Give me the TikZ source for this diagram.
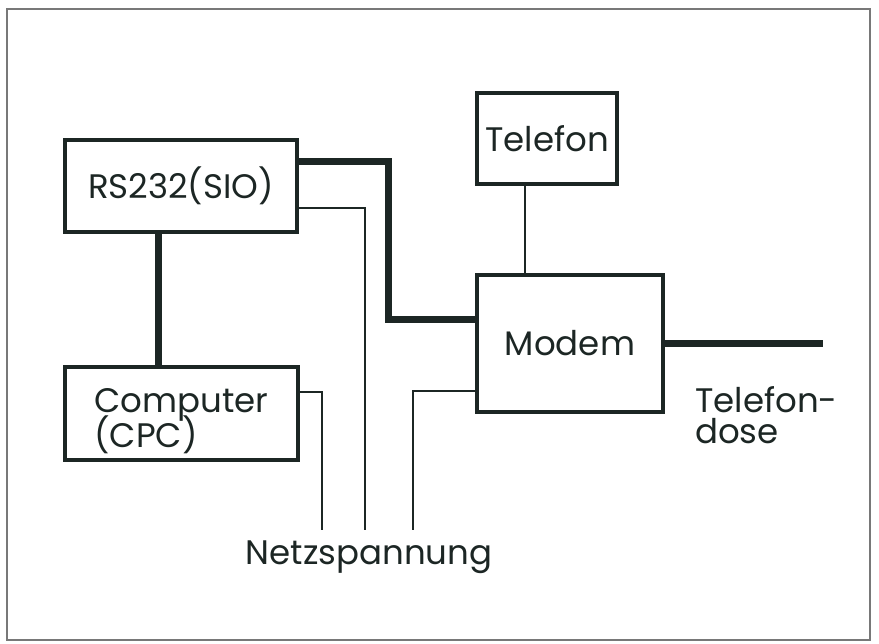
\documentclass[tikz,border=0pt]{standalone}
\usepackage{fontspec}
\setmainfont{Poppins}
\usepackage{xcolor}
\usetikzlibrary{positioning, calc}
\definecolor{InkDark}{RGB}{28,38,36}
\definecolor{FrameGray}{RGB}{120,120,120}
\newcommand\tightlead{\lineskiplimit=-100pt\relax}

\begin{document}
\begin{tikzpicture}[x=1pt, y=-1pt,
  box/.style={draw=InkDark, line width=3.6pt, inner sep=0pt,
              font=\fontsize{34}{35}\selectfont\tightlead,
              text=InkDark, align=center},
  label/.style={inner sep=0pt, font=\fontsize{34}{31}\selectfont\tightlead,
                text=InkDark, align=left},
  bus/.style={draw=InkDark, line width=7pt},
  wire/.style={draw=InkDark, line width=1.3pt},
]
\useasboundingbox (0,0) rectangle (879,644);
\draw[FrameGray, line width=1.5pt] (7,9) rectangle (870,640);
%% Boxes
\node[box, minimum width=232pt, minimum height=92pt] (rs) at (181,186) {RS232(SIO)};
\node[box, minimum width=233pt, minimum height=93pt, align=left, text height=74pt] (cpc) at (181.5,413.5) {Computer\\(CPC)};
\node[box, minimum width=140pt, minimum height=91pt] (tel) at (547,138.5) {Telefon};
\node[box, minimum width=186pt, minimum height=137pt] (modem) at (570,343.5) {Modem};
%% Labels
\node[label, anchor=north west] (dose) at (695,386) {Telefon-\\dose};
\node[label, anchor=north] (netz) at (369,541) {Netzspannung};
\coordinate (bend) at (388,320);
\coordinate (pwa) at (322,530);
\coordinate (pwb) at (365,530);
\coordinate (pwc) at (413,530);
\coordinate (plug) at (823,343.5);
%% Data lines
\draw[bus] ([yshift=24pt]rs.east) -| (bend) -- (bend -| modem.west);
\draw[bus] ([xshift=-23pt]rs.south) -- ([xshift=-23.5pt]cpc.north);
\draw[bus] (modem.east) -- (plug);
\draw[wire, line width=1.8pt] ([xshift=-22pt]tel.south) -- ([xshift=-45pt]modem.north);
%% Mains
\draw[wire] ([yshift=-22pt]rs.east) -| (pwb);
\draw[wire] ([yshift=21.5pt]cpc.east) -| (pwa);
\draw[wire] ([yshift=-47.5pt]modem.west) -| (pwc);
\end{tikzpicture}
\end{document}
